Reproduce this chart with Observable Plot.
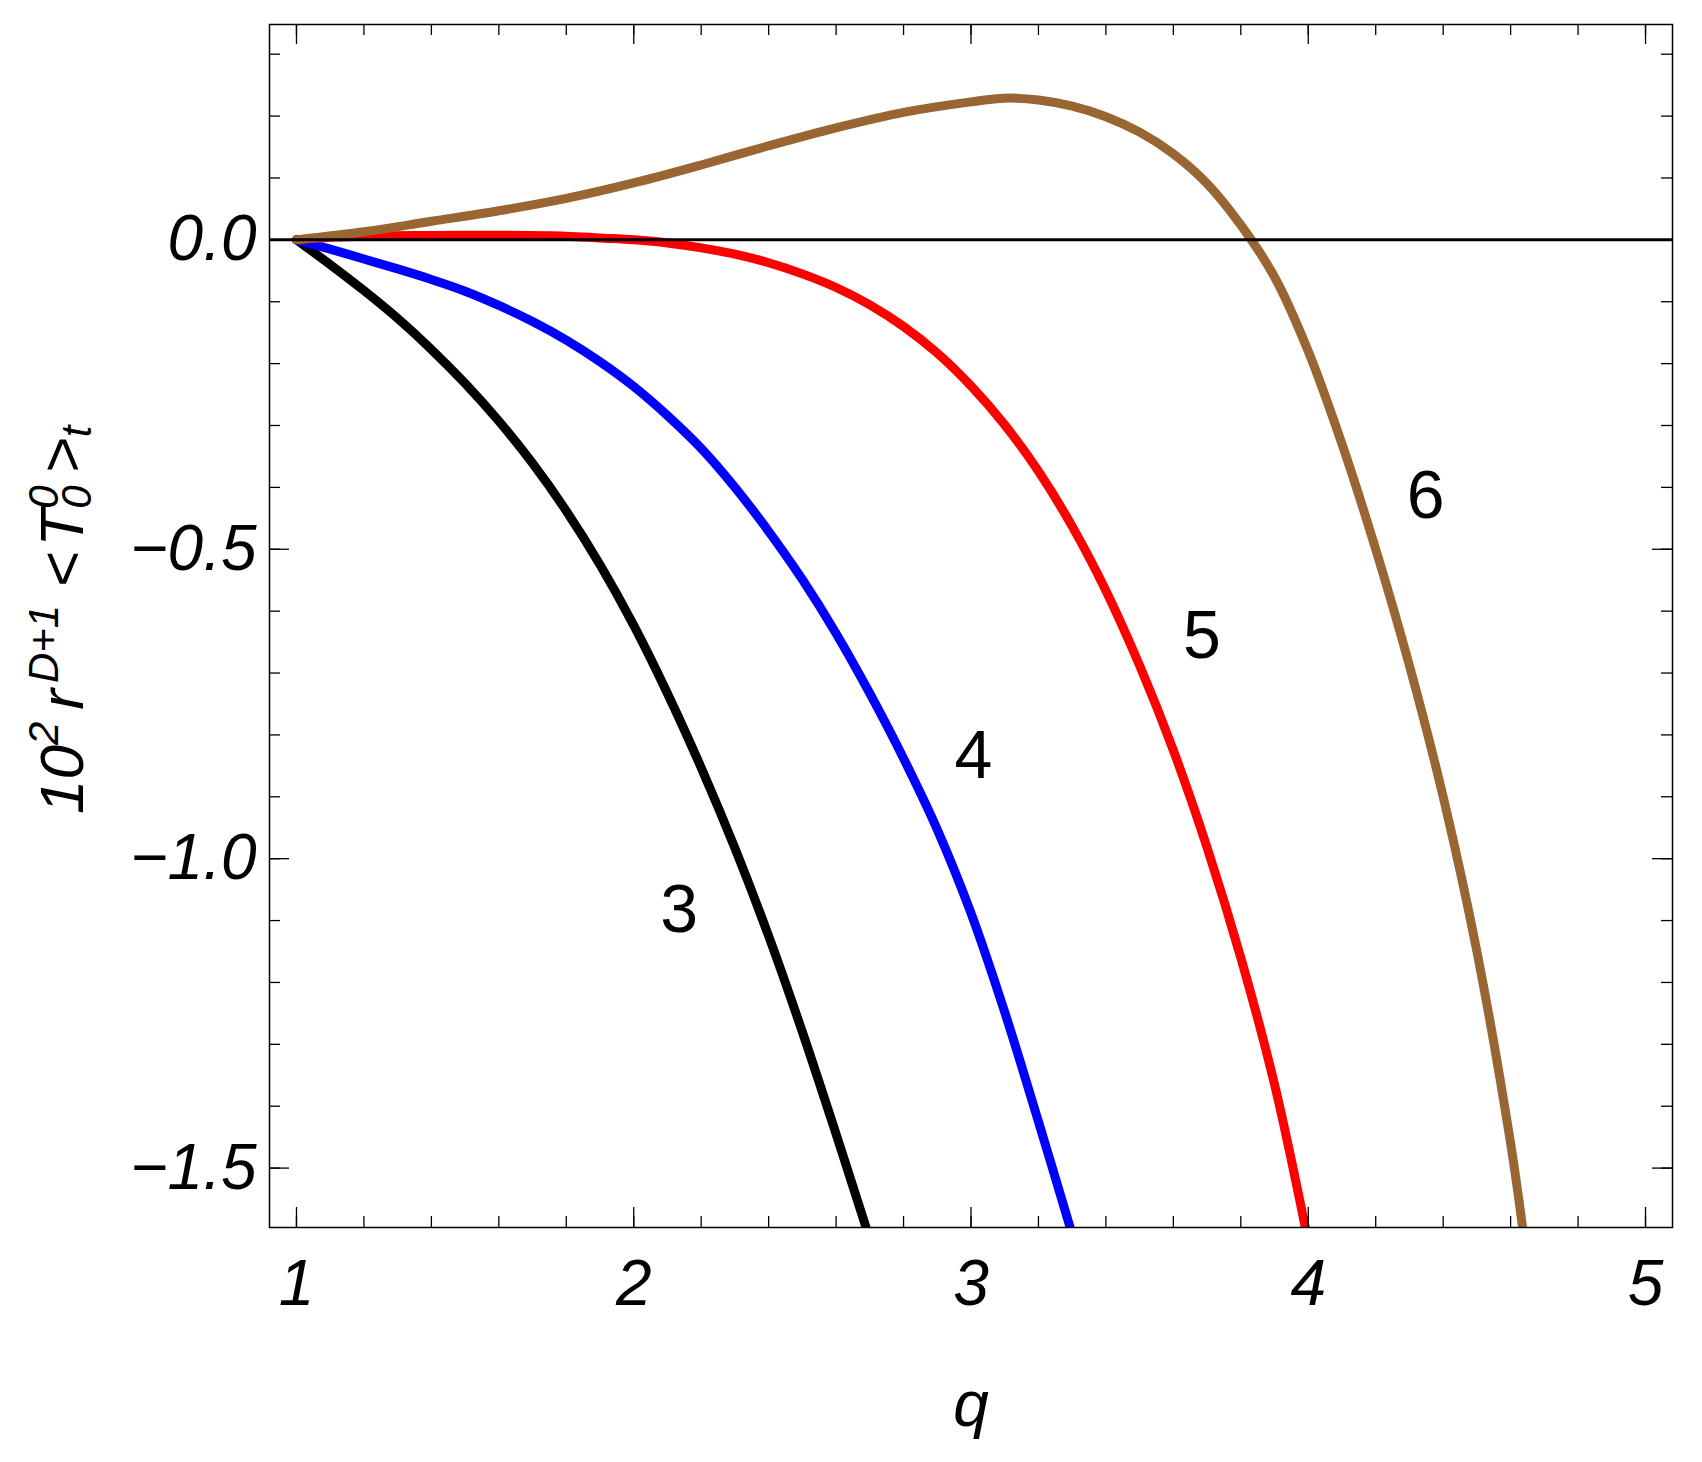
<!DOCTYPE html>
<html>
<head>
<meta charset="utf-8">
<script src="https://cdn.jsdelivr.net/npm/d3@7"></script>
<script src="https://cdn.jsdelivr.net/npm/@observablehq/plot@0.6"></script>
<style>
  html, body { margin: 0; padding: 0; background: #fff; }
  #chart svg { display: block; }
  g[aria-label="x-axis tick label"] text, g[aria-label="y-axis tick label"] text { font-style: italic; }
</style>
</head>
<body>
<div id="chart"></div>
<script>
// ---- data ----
const seriesNames = ["3", "4", "5", "6"];
const seriesColors = ["#000000", "#0000ff", "#ff0000", "#996633"];

const qD3 = [1.00, 1.10, 1.20, 1.30, 1.40, 1.50, 1.60, 1.70, 1.80, 1.90, 2.00, 2.10, 2.20, 2.30, 2.40, 2.50, 2.60, 2.69];
const vD3 = [0, -0.040, -0.082, -0.127, -0.177, -0.232, -0.293, -0.361, -0.438, -0.525, -0.623, -0.733, -0.853, -0.983, -1.125, -1.280, -1.445, -1.598];

const qD4 = [1.00, 1.10, 1.20, 1.30, 1.40, 1.50, 1.60, 1.70, 1.80, 1.90, 2.00, 2.10, 2.20, 2.30, 2.40, 2.50, 2.60, 2.70, 2.80, 2.90, 3.00, 3.10, 3.20, 3.295];
const vD4 = [0, -0.015, -0.031, -0.047, -0.064, -0.083, -0.106, -0.132, -0.162, -0.197, -0.237, -0.284, -0.337, -0.400, -0.471, -0.549, -0.636, -0.733, -0.838, -0.953, -1.088, -1.248, -1.425, -1.598];

const qD5 = [1.00, 1.10, 1.20, 1.40, 1.60, 1.80, 1.90, 2.00, 2.10, 2.20, 2.30, 2.40, 2.50, 2.60, 2.70, 2.80, 2.90, 3.00, 3.10, 3.20, 3.30, 3.40, 3.50, 3.60, 3.70, 3.80, 3.90, 3.992];
const vD5 = [0, 0.004, 0.006, 0.007, 0.0075, 0.006, 0.003, 0.000, -0.005, -0.013, -0.023, -0.037, -0.055, -0.077, -0.105, -0.140, -0.183, -0.236, -0.299, -0.374, -0.463, -0.567, -0.688, -0.825, -0.982, -1.160, -1.365, -1.598];

const qD6 = [1.00, 1.20, 1.40, 1.60, 1.80, 2.00, 2.20, 2.40, 2.60, 2.80, 3.00, 3.10, 3.20, 3.30, 3.40, 3.50, 3.60, 3.70, 3.80, 3.90, 4.00, 4.10, 4.20, 4.30, 4.40, 4.50, 4.60, 4.636];
const vD6 = [0, 0.013, 0.030, 0.047, 0.067, 0.092, 0.121, 0.152, 0.181, 0.206, 0.223, 0.229, 0.226, 0.216, 0.199, 0.174, 0.139, 0.091, 0.024, -0.060, -0.180, -0.330, -0.500, -0.688, -0.900, -1.150, -1.460, -1.598];

const labelQ = [2.135, 3.007, 3.685, 4.348];
const labelV = [-1.084, -0.835, -0.640, -0.414];

const xTickValues = [1, 2, 3, 4, 5];
const yTickValues = [0, -0.5, -1.0, -1.5];
const xMinorTicks = [1.0, 1.2, 1.4, 1.6, 1.8, 2.0, 2.2, 2.4, 2.6, 2.8, 3.0, 3.2, 3.4, 3.6, 3.8, 4.0, 4.2, 4.4, 4.6, 4.8, 5.0];
const yMinorTicks = [0.3, 0.2, 0.1, 0, -0.1, -0.2, -0.3, -0.4, -0.5, -0.6, -0.7, -0.8, -0.9, -1.0, -1.1, -1.2, -1.3, -1.4, -1.5];

const xDomain = [0.92, 5.08];
const yDomain = [-1.596, 0.348];

const xTitle = "q";
// y title pieces: text, font size, relative dx / dy (sup = up, sub = down)
const yTitleParts = [
  {s: "10", size: 62, dx: 0, dy: 0},
  {s: "2", size: 42, dx: 0, dy: -25},
  {s: "r", size: 62, dx: 12, dy: 25},
  {s: "D+1", size: 42, dx: 6, dy: -25},
  {s: "<", size: 62, dx: 17, dy: 25},
  {s: "T", size: 62, dx: 5, dy: 0},
  {s: "0", size: 42, dx: 0, dy: -25},
  {s: "0", size: 42, dx: -23.4, dy: 33},
  {s: ">", size: 62, dx: 12, dy: -8},
  {s: "t", size: 42, dx: 0, dy: 8}
];

// ---- build table ----
const allQ = [qD3, qD4, qD5, qD6];
const allV = [vD3, vD4, vD5, vD6];
const rows = [];
allQ.forEach((qs, i) => qs.forEach((q, j) => rows.push({D: seriesNames[i], q, v: allV[i][j]})));
const labels = seriesNames.map((s, i) => ({D: s, q: labelQ[i], v: labelV[i]}));

// ---- layout ----
const W = 1702, H = 1462;
const mTop = 24, mRight = 30, mBottom = 235, mLeft = 269;
const fw = W - mLeft - mRight, fh = H - mTop - mBottom;
const FONT = "'Liberation Sans', Arial, Helvetica, sans-serif";
const majorLen = 20, minorLen = 11;

const chart = Plot.plot({
  width: W,
  height: H,
  marginTop: mTop, marginRight: mRight, marginBottom: mBottom, marginLeft: mLeft,
  style: {fontFamily: FONT, background: "#fff", color: "#000"},
  x: {domain: xDomain, label: null},
  y: {domain: yDomain, label: null},
  color: {domain: seriesNames, range: seriesColors},
  marks: [
    Plot.line(rows, {x: "q", y: "v", z: "D", stroke: "D", strokeWidth: 9, curve: "catmull-rom", strokeLinejoin: "round", clip: true}),
    Plot.ruleY([0], {stroke: "#000", strokeWidth: 3}),
    Plot.frame({stroke: "#000", strokeWidth: 1.5}),
    Plot.tickX(xMinorTicks, {x: d => d, insetTop: fh - minorLen, stroke: "#000", strokeWidth: 1.3}),
    Plot.tickX(xMinorTicks, {x: d => d, insetBottom: fh - minorLen, stroke: "#000", strokeWidth: 1.3}),
    Plot.tickX(xTickValues, {x: d => d, insetTop: fh - majorLen, stroke: "#000", strokeWidth: 1.3}),
    Plot.tickX(xTickValues, {x: d => d, insetBottom: fh - majorLen, stroke: "#000", strokeWidth: 1.3}),
    Plot.tickY(yMinorTicks, {y: d => d, insetRight: fw - minorLen, stroke: "#000", strokeWidth: 1.3}),
    Plot.tickY(yMinorTicks, {y: d => d, insetLeft: fw - minorLen, stroke: "#000", strokeWidth: 1.3}),
    Plot.tickY(yTickValues, {y: d => d, insetRight: fw - majorLen, stroke: "#000", strokeWidth: 1.3}),
    Plot.tickY(yTickValues, {y: d => d, insetLeft: fw - majorLen, stroke: "#000", strokeWidth: 1.3}),
    Plot.axisX({ticks: xTickValues, tickSize: 0, tickPadding: 32, fontSize: 64, fontStyle: "italic", tickFormat: d => String(d)}),
    Plot.axisY({ticks: yTickValues, tickSize: 0, tickPadding: 13, fontSize: 64, fontStyle: "italic", tickFormat: d3.format(".1f")}),
    Plot.text(labels, {x: "q", y: "v", text: "D", fontSize: 68, fill: "#000"}),
    Plot.text([xTitle], {frameAnchor: "bottom", lineAnchor: "middle", dy: 178, text: d => d, fontSize: 64, fontStyle: "italic", fill: "#000"})
  ]
});

document.getElementById("chart").appendChild(chart);

// y axis title with super/subscripts (real text), reading bottom to top
const svg = d3.select(chart);
const t = svg.append("text")
  .attr("transform", "translate(83,814) rotate(-90)")
  .attr("text-anchor", "start")
  .attr("fill", "#000")
  .style("font-family", FONT)
  .style("font-style", "italic")
  .style("font-size", "62px");
yTitleParts.forEach(p => {
  const ts = t.append("tspan").text(p.s).style("font-size", p.size + "px");
  if (p.dx) ts.attr("dx", p.dx);
  if (p.dy) ts.attr("dy", p.dy);
});
</script>
</body>
</html>
